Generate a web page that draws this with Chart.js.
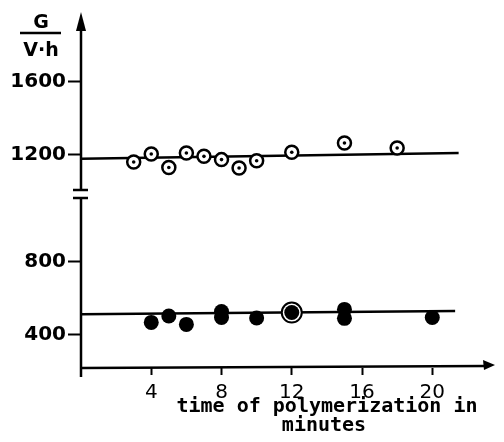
<!DOCTYPE html>
<html>
<head>
<meta charset="utf-8">
<script src="https://cdn.jsdelivr.net/npm/chart.js@4"></script>
<style>
  body { margin: 0; background: #fff; }
  canvas { display: block; }
</style>
</head>
<body>
<canvas id="chart" width="504" height="442"></canvas>
<script>
// time of polymerization (min) and G/(V·h)
const xTicks = [4, 8, 12, 16, 20];
const yTickLabels = [400, 800, 1200, 1600];

const openTimes = [3, 4, 5, 6, 7, 8, 9, 10, 12, 15, 18];
const openValues = [1160, 1204, 1130, 1209, 1191, 1173, 1127, 1167, 1213, 1264, 1237];

const filledTimes = [4, 5, 6, 8, 8, 10, 12, 15, 15, 20];
const filledValues = [466, 501, 455, 493, 526, 490, 520, 488, 537, 493];

const ringTimes = [12];
const ringValues = [520];

const upperFitTimes = [0, 21.5];
const upperFitValues = [1178, 1209];
const lowerFitTimes = [0, 21.3];
const lowerFitValues = [510, 528];

// the y axis is broken between 800 and 1200: values above the break are shifted up
const BREAK_VALUE = 1000;
const BREAK_SHIFT = 185;
const toAxis = (v) => (v > BREAK_VALUE ? v + BREAK_SHIFT : v);
const fromAxis = (v) => (v > BREAK_VALUE + BREAK_SHIFT ? v - BREAK_SHIFT : v);
const points = (xs, ys) => xs.map((x, i) => ({ x: x, y: toAxis(ys[i]) }));

const INK = "#000";

const axesPlugin = {
  id: "axes",
  beforeDatasetsDraw(chart) {
    const { ctx, chartArea } = chart;
    const yScale = chart.scales.y;
    const x0 = chartArea.left;
    const y0 = chartArea.bottom;
    const breakTop = yScale.getPixelForValue(1192);
    const breakBottom = yScale.getPixelForValue(1148);

    ctx.save();
    ctx.strokeStyle = INK;
    ctx.fillStyle = INK;
    ctx.lineWidth = 2.5;

    // y axis, interrupted at the break
    ctx.beginPath();
    ctx.moveTo(x0, y0 + 9);
    ctx.lineTo(x0, breakBottom);
    ctx.moveTo(x0, breakTop);
    ctx.lineTo(x0, chartArea.top + 12);
    ctx.stroke();

    // break marks
    ctx.beginPath();
    ctx.moveTo(x0 - 8, breakTop);
    ctx.lineTo(x0 + 7, breakTop);
    ctx.moveTo(x0 - 8, breakBottom);
    ctx.lineTo(x0 + 7, breakBottom);
    ctx.stroke();

    // y arrow head
    ctx.beginPath();
    ctx.moveTo(x0, chartArea.top - 2);
    ctx.lineTo(x0 - 5, chartArea.top + 17);
    ctx.lineTo(x0 + 5, chartArea.top + 17);
    ctx.closePath();
    ctx.fill();

    // x axis with arrow head
    ctx.beginPath();
    ctx.moveTo(x0, y0);
    ctx.lineTo(chartArea.right - 6, y0 - 2);
    ctx.stroke();
    ctx.beginPath();
    ctx.moveTo(chartArea.right + 3, y0 - 3);
    ctx.lineTo(chartArea.right - 9, y0 - 8);
    ctx.lineTo(chartArea.right - 8, y0 + 2);
    ctx.closePath();
    ctx.fill();

    // axis titles
    ctx.textAlign = "center";
    ctx.textBaseline = "middle";
    ctx.font = "bold 19px 'DejaVu Sans'";
    ctx.fillText("G", 41, 23);
    ctx.fillText("V·h", 41, 51);
    ctx.beginPath();
    ctx.moveTo(20, 33);
    ctx.lineTo(61, 33);
    ctx.stroke();

    ctx.font = "bold 20px 'DejaVu Sans Mono'";
    ctx.fillText("time of polymerization in", 327, 407);
    ctx.fillText("minutes", 324, 426);
    ctx.restore();
  }
};

new Chart(document.getElementById("chart"), {
  type: "scatter",
  plugins: [axesPlugin],
  data: {
    datasets: [
      {
        // centre dots of the open circles
        data: points(openTimes, openValues),
        pointRadius: 1.8,
        pointBackgroundColor: INK,
        pointBorderWidth: 0,
        order: 0
      },
      {
        data: points(openTimes, openValues),
        pointRadius: 6.5,
        pointBackgroundColor: "#fff",
        pointBorderColor: INK,
        pointBorderWidth: 2.5,
        order: 1
      },
      {
        data: points(filledTimes, filledValues),
        pointRadius: 7.5,
        pointBackgroundColor: INK,
        pointBorderWidth: 0,
        order: 2
      },
      {
        data: points(ringTimes, ringValues),
        pointRadius: 10,
        pointBackgroundColor: "#fff",
        pointBorderColor: INK,
        pointBorderWidth: 2,
        order: 3
      },
      {
        type: "line",
        data: points(upperFitTimes, upperFitValues),
        borderColor: INK,
        borderWidth: 2.5,
        pointRadius: 0,
        order: 4
      },
      {
        type: "line",
        data: points(lowerFitTimes, lowerFitValues),
        borderColor: INK,
        borderWidth: 2.5,
        pointRadius: 0,
        order: 4
      }
    ]
  },
  options: {
    responsive: false,
    animation: false,
    layout: { padding: { top: 14, right: 4, left: 0, bottom: 0 } },
    plugins: {
      legend: { display: false },
      tooltip: { enabled: false }
    },
    scales: {
      x: {
        type: "linear",
        min: 0,
        max: 23.4,
        border: { display: false },
        grid: { drawOnChartArea: false, tickLength: 7, tickWidth: 2, tickColor: INK },
        ticks: { color: INK, padding: 6, maxRotation: 0, font: { family: "DejaVu Sans", size: 20 } },
        afterBuildTicks: (scale) => { scale.ticks = xTicks.map((v) => ({ value: v })); },
        afterFit: (scale) => { scale.height = 74; }
      },
      y: {
        min: 216,
        max: 2156,
        border: { display: false },
        grid: { drawOnChartArea: false, tickLength: 13, tickWidth: 2, tickColor: INK },
        ticks: {
          color: INK,
          padding: 2,
          font: { family: "DejaVu Sans", size: 20, weight: "bold" },
          callback: (value) => String(fromAxis(value))
        },
        afterBuildTicks: (scale) => { scale.ticks = yTickLabels.map((v) => ({ value: toAxis(v) })); },
        afterFit: (scale) => { scale.width = 81; }
      }
    }
  }
});
</script>
</body>
</html>
